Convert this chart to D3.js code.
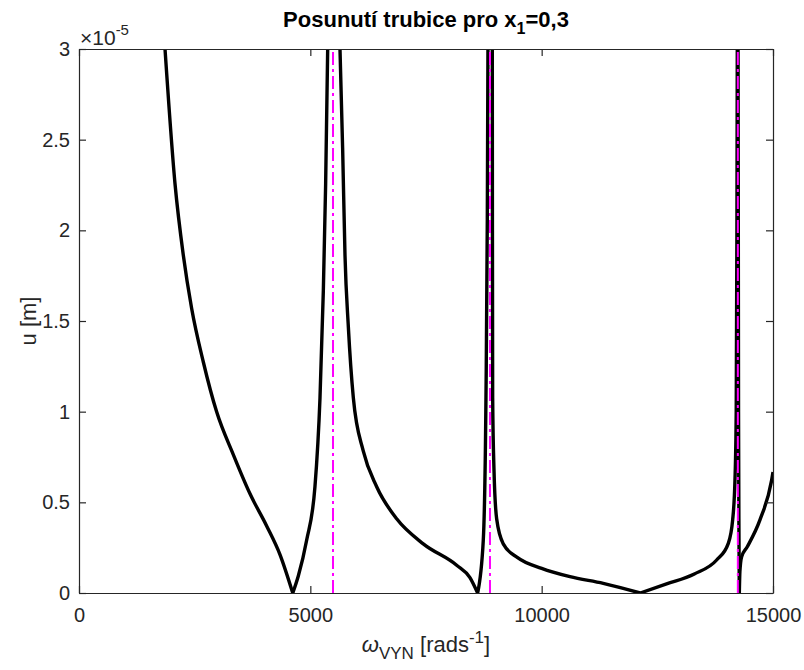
<!DOCTYPE html>
<html>
<head>
<meta charset="utf-8">
<script src="https://cdn.jsdelivr.net/npm/d3@7"></script>
<style>
  body { margin: 0; background: #fff; }
  svg text { font-family: "Liberation Sans", Arial, sans-serif; }
</style>
</head>
<body>
<div id="chart"></div>
<script>
// axis ticks
var xTicks = [0, 5000, 10000, 15000];
var yTicks = [0, 0.5, 1, 1.5, 2, 2.5, 3];      // u in 1e-5 m

// eigenfrequencies (dash-dot lines), rad/s
var resonances = [5490, 8883, 14240];

// curve pieces: omega [rad/s], u [1e-5 m]
var w1 = [1859, 2075, 2254, 2435, 2687, 2975, 3335, 3696, 4056, 4344, 4620];
var u1 = [3.0, 2.257, 1.864, 1.569, 1.274, 0.999, 0.763, 0.547, 0.370, 0.212, 0];
var w2 = [4620, 4740, 4920, 5100, 5209, 5281, 5331, 5375];
var u2 = [0, 0.094, 0.291, 0.586, 1.077, 1.667, 2.257, 3.0];
var w3 = [5641, 5698, 5749, 5821, 5929, 6145, 6434, 6866, 7441, 8163, 8450, 8616];
var u3 = [3.0, 2.454, 1.864, 1.470, 1.077, 0.782, 0.586, 0.409, 0.271, 0.153, 0.085, 0];
var w4 = [8616, 8738, 8796, 8825, 8839];
var u4 = [0, 0.291, 1.077, 2.06, 3.0];
var w5 = [8933, 8936, 8941, 8969, 9027, 9170, 9480, 10000, 10612, 11331, 12130];
var u5 = [3.0, 2.0, 1.077, 0.684, 0.409, 0.271, 0.195, 0.136, 0.090, 0.053, 0];
var w6 = [12130, 12700, 13300, 13782, 14034, 14128, 14178, 14205, 14220, 14228];
var u6 = [0, 0.05, 0.105, 0.182, 0.274, 0.403, 0.623, 1.0, 2.0, 3.0];
var w7 = [14245, 14255, 14265, 14272];
var u7 = [3.0, 1.0, 0.3, 0];
var w8 = [14272, 14285, 14322, 14444, 14718, 14971, 15000];
var u8 = [0, 0.12, 0.2, 0.255, 0.403, 0.623, 0.667];

var Chart = function () {
    var _Chart = function (opts) {
        this.element = opts.element;
        this.pieces = opts.pieces;
        this.__draw();
    };

    _Chart.prototype = {
        __draw: function () {
            this.width = 804;
            this.height = 670;
            this.margin = { top: 49, right: 31, bottom: 77, left: 79 };
            var m = this.margin;
            this.iw = this.width - m.left - m.right;
            this.ih = this.height - m.top - m.bottom;

            this.svg = d3.select(this.element).append('svg')
                .attr('width', this.width)
                .attr('height', this.height);

            this.svg.append('defs').append('clipPath').attr('id', 'clip')
                .append('rect').attr('width', this.iw).attr('height', this.ih);

            this.plot = this.svg.append('g')
                .attr('transform', 'translate(' + m.left + ',' + m.top + ')');

            this.xScale = d3.scaleLinear().domain([0, 15000]).range([0, this.iw]);
            this.yScale = d3.scaleLinear().domain([0, 3]).range([this.ih, 0]);

            this.__addCurves();
            this.__addResonances();
            this.__addAxes();
            this.__addTexts();
        },
        __addCurves: function () {
            var _this = this;
            var line = d3.line()
                .x(function (d) { return _this.xScale(d[0]); })
                .y(function (d) { return _this.yScale(d[1]); })
                .curve(d3.curveMonotoneX);

            var g = this.plot.append('g').attr('clip-path', 'url(#clip)');
            this.pieces.forEach(function (p) {
                var pts = p.w.map(function (w, i) { return [w, p.u[i]]; });
                g.append('path')
                    .attr('d', line(pts))
                    .style('fill', 'none')
                    .style('stroke', '#000')
                    .style('stroke-width', 3.4)
                    .style('stroke-linejoin', 'miter');
            });
        },
        __addResonances: function () {
            var _this = this;
            this.plot.append('g').selectAll('line')
                .data(resonances).enter().append('line')
                .attr('x1', function (d) { return _this.xScale(d); })
                .attr('x2', function (d) { return _this.xScale(d); })
                .attr('y1', this.yScale(0))
                .attr('y2', this.yScale(3))
                .style('stroke', '#ff00ff')
                .style('stroke-width', 2)
                .style('stroke-dasharray', '13,4,3,4');
        },
        __addAxes: function () {
            var fmt = function (d) { return String(d); };
            var xs = this.xScale, ys = this.yScale;

            var gx = this.plot.append('g')
                .attr('transform', 'translate(0,' + this.ih + ')')
                .call(d3.axisBottom(xs).tickValues(xTicks).tickSizeInner(-7).tickSizeOuter(0).tickPadding(15).tickFormat(fmt));
            var gxt = this.plot.append('g')
                .call(d3.axisTop(xs).tickValues(xTicks).tickSizeInner(-7).tickSizeOuter(0).tickFormat(''));
            var gy = this.plot.append('g')
                .call(d3.axisLeft(ys).tickValues(yTicks).tickSizeInner(-7).tickSizeOuter(0).tickPadding(9).tickFormat(fmt));
            var gyr = this.plot.append('g')
                .attr('transform', 'translate(' + this.iw + ',0)')
                .call(d3.axisRight(ys).tickValues(yTicks).tickSizeInner(-7).tickSizeOuter(0).tickFormat(''));

            [gx, gxt, gy, gyr].forEach(function (g) {
                g.select('.domain').style('stroke', '#262626').style('stroke-width', 1.2);
                g.selectAll('.tick line').style('stroke', '#262626').style('stroke-width', 1.2);
                g.selectAll('.tick text')
                    .style('font-size', '20px')
                    .style('fill', '#262626')
                    .style('font-family', '"Liberation Sans", Arial, sans-serif');
            });
        },
        __addTexts: function () {
            var m = this.margin;
            var cx = m.left + this.iw / 2;

            // title
            var t = this.svg.append('text')
                .attr('x', cx).attr('y', 27)
                .attr('text-anchor', 'middle')
                .style('font-size', '22px')
                .style('font-weight', 'bold')
                .style('fill', '#000');
            t.append('tspan').text('Posunutí trubice pro x');
            t.append('tspan').attr('dy', 7).style('font-size', '16px').text('1');
            t.append('tspan').attr('dy', -7).text('=0,3');

            // exponent
            var e = this.svg.append('text')
                .attr('x', m.left + 1).attr('y', 45)
                .style('font-size', '21px')
                .style('fill', '#262626');
            e.append('tspan').text('×10');
            e.append('tspan').attr('dy', -10).style('font-size', '15px').text('-5');

            // x label
            var xl = this.svg.append('text')
                .attr('x', cx).attr('y', 652)
                .attr('text-anchor', 'middle')
                .style('font-size', '22px')
                .style('fill', '#262626');
            xl.append('tspan').style('font-style', 'italic').text('ω');
            xl.append('tspan').attr('dy', 7).style('font-size', '17px').text('VYN');
            xl.append('tspan').attr('dy', -7).text(' [rads');
            xl.append('tspan').attr('dy', -9).style('font-size', '17px').text('-1');
            xl.append('tspan').attr('dy', 9).text(']');

            // y label
            this.svg.append('text')
                .attr('transform', 'translate(36,' + (m.top + this.ih / 2) + ') rotate(-90)')
                .attr('text-anchor', 'middle')
                .style('font-size', '22px')
                .style('fill', '#262626')
                .text('u [m]');
        }
    };

    return _Chart;
}.call(this);

new Chart({
    element: document.getElementById('chart'),
    pieces: [
        { w: w1, u: u1 }, { w: w2, u: u2 }, { w: w3, u: u3 }, { w: w4, u: u4 },
        { w: w5, u: u5 }, { w: w6, u: u6 }, { w: w7, u: u7 }, { w: w8, u: u8 }
    ]
});
</script>
</body>
</html>
